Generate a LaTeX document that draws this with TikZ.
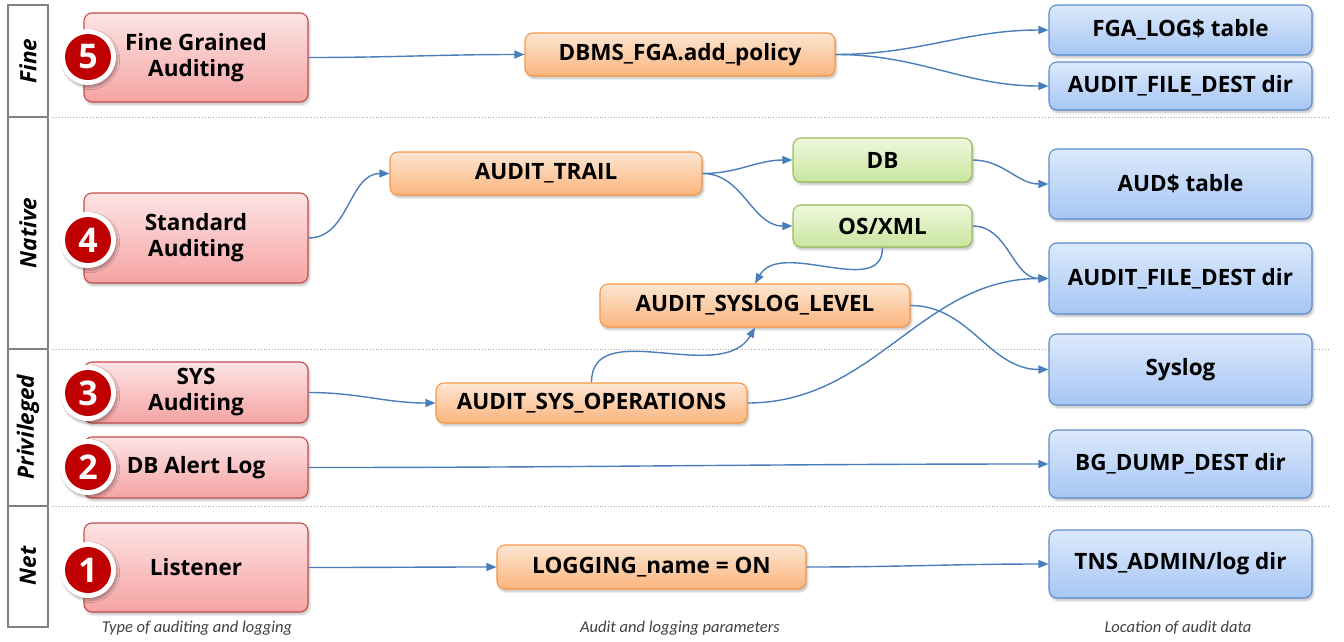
\documentclass[tikz,border=0pt]{standalone}
\usepackage{fontspec}
\setmainfont{Open Sans}
\newfontfamily\capfont{Carlito}
\usetikzlibrary{arrows.meta,shadows.blur,positioning}

\definecolor{redtop}{HTML}{FDE4E4}
\definecolor{redbot}{HTML}{F5A3A3}
\definecolor{redline}{HTML}{C0504D}
\definecolor{ortop}{HTML}{FDE6D2}
\definecolor{orbot}{HTML}{FBB57E}
\definecolor{orline}{HTML}{F79646}
\definecolor{grtop}{HTML}{EEF8DE}
\definecolor{grbot}{HTML}{C9E69E}
\definecolor{grline}{HTML}{9BBB59}
\definecolor{bltop}{HTML}{DCE9FC}
\definecolor{blbot}{HTML}{A6C6F4}
\definecolor{blline}{HTML}{5B8CCB}
\definecolor{wire}{HTML}{4A7EBB}
\definecolor{badge}{HTML}{C00000}
\definecolor{lane}{HTML}{808080}

\tikzset{
  box/.style={draw, line width=1.1pt, rounded corners=8pt, align=center,
    font=\bfseries\fontsize{22.5}{26}\selectfont, inner sep=0pt,
    blur shadow={shadow xshift=1.5pt, shadow yshift=-2.5pt, shadow opacity=25, shadow blur steps=6}},
  redbox/.style={box, draw=redline, top color=redtop, bottom color=redbot},
  orbox/.style={box, draw=orline, top color=ortop, bottom color=orbot},
  grbox/.style={box, draw=grline, top color=grtop, bottom color=grbot},
  blbox/.style={box, draw=blline, top color=bltop, bottom color=blbot},
  ring/.style={circle, fill=white, minimum size=56pt, inner sep=0pt,
    blur shadow={shadow xshift=1.5pt, shadow yshift=-2.5pt, shadow opacity=30, shadow blur steps=6}},
  num/.style={circle, fill=badge, minimum size=46pt, inner sep=0pt, text=white,
    font=\bfseries\fontsize{34}{36}\selectfont},
  wireline/.style={draw=wire, line width=1.4pt, -{Triangle[length=10pt,width=8pt]}},
  lanetext/.style={rotate=90, font=\bfseries\itshape\fontsize{22.5}{26}\selectfont},
  captext/.style={font=\capfont\itshape\fontsize{16.5}{19}\selectfont, text=black!75},
  divider/.style={draw=black!35, line width=0.8pt, dotted}
}

\begin{document}
\begin{tikzpicture}[x=1pt,y=1pt]
\useasboundingbox (0,0) rectangle (1344,-641);

% lane column and lane dividers
\draw[lane, line width=1.2pt] (8,-5) rectangle (48,-627);
\foreach \yy in {117,349,506}{
  \draw[lane, line width=1.2pt] (8,-\yy) -- (48,-\yy);
  \draw[divider] (48,-\yy) -- (1330,-\yy);
}
\node[lanetext] (lfine) at (28,-61) {Fine};
\node[lanetext] (lnative) at (28,-233) {Native};
\node[lanetext] (lpriv) at (28,-427) {Privileged};
\node[lanetext] (lnet) at (28,-566) {Net};

% types of auditing and logging
\node[redbox, minimum width=224pt, minimum height=89pt] (fine) at (196,-57.5) {Fine Grained\\Auditing};
\node[redbox, minimum width=224pt, minimum height=90pt] (std) at (196,-238) {Standard\\Auditing};
\node[redbox, minimum width=224pt, minimum height=61pt] (sys) at (196,-392.5) {SYS\\Auditing};
\node[redbox, minimum width=224pt, minimum height=61pt] (alert) at (196,-467.5) {DB Alert Log};
\node[redbox, minimum width=224pt, minimum height=89pt] (lsn) at (196,-567.5) {Listener};

% numbered badges
\node[ring] (r5) at (88,-57) {};   \node[num] (n5) at (r5) {5};
\node[ring] (r4) at (88,-240) {};  \node[num] (n4) at (r4) {4};
\node[ring] (r3) at (88,-393) {};  \node[num] (n3) at (r3) {3};
\node[ring] (r2) at (88,-467) {};  \node[num] (n2) at (r2) {2};
\node[ring] (r1) at (88,-570) {};  \node[num] (n1) at (r1) {1};

% parameters
\node[orbox, minimum width=310pt, minimum height=43pt] (fga) at (680,-54.5) {DBMS\_FGA.add\_policy};
\node[orbox, minimum width=312pt, minimum height=43pt] (trail) at (546,-173.5) {AUDIT\_TRAIL};
\node[grbox, minimum width=179pt, minimum height=44pt] (db) at (882.5,-160) {DB};
\node[grbox, minimum width=179pt, minimum height=42pt] (osxml) at (882.5,-226) {OS/XML};
\node[orbox, minimum width=310pt, minimum height=43pt] (syslvl) at (755,-305.5) {AUDIT\_SYSLOG\_LEVEL};
\node[orbox, minimum width=311pt, minimum height=40pt] (sysops) at (591.5,-403) {AUDIT\_SYS\_OPERATIONS};
\node[orbox, minimum width=309pt, minimum height=44pt] (logging) at (651.5,-567) {LOGGING\_name = ON};

% locations of audit data
\node[blbox, minimum width=263pt, minimum height=50pt] (fgalog) at (1180.5,-30) {FGA\_LOG\$ table};
\node[blbox, minimum width=263pt, minimum height=48pt] (afdfine) at (1180.5,-86) {AUDIT\_FILE\_DEST dir};
\node[blbox, minimum width=263pt, minimum height=70pt] (aud) at (1180.5,-184) {AUD\$ table};
\node[blbox, minimum width=263pt, minimum height=71pt] (afdnat) at (1180.5,-278.5) {AUDIT\_FILE\_DEST dir};
\node[blbox, minimum width=263pt, minimum height=71pt] (syslog) at (1180.5,-369.5) {Syslog};
\node[blbox, minimum width=263pt, minimum height=68pt] (bgdump) at (1180.5,-464) {BG\_DUMP\_DEST dir};
\node[blbox, minimum width=263pt, minimum height=68pt] (tns) at (1180.5,-564) {TNS\_ADMIN/log dir};

% connectors
\path[wireline] (fine.east) to[out=0,in=180] (fga.west);
\path[wireline] (fga.east) to[out=0,in=180] (fgalog.west);
\path[wireline] (fga.east) to[out=0,in=180] (afdfine.west);
\path[wireline] (std.east) to[out=0,in=180] (trail.west);
\path[wireline] (trail.east) to[out=0,in=180] (db.west);
\path[wireline] (trail.east) to[out=0,in=180] (osxml.west);
\path[wireline] (db.east) to[out=0,in=180] (aud.west);
\path[wireline] (osxml.east) to[out=0,in=180] (afdnat.west);
\path[wireline] (osxml.south) to[out=-90,in=60] (syslvl.north);
\path[wireline] (syslvl.east) to[out=0,in=180] (syslog.west);
\path[wireline] (sys.east) to[out=0,in=180] (sysops.west);
\path[wireline] (sysops.north) to[out=90,in=-120] (syslvl.south);
\path[wireline] (sysops.east) to[out=0,in=180] (afdnat.west);
\path[wireline] (alert.east) to[out=0,in=180] (bgdump.west);
\path[wireline] (lsn.east) to[out=0,in=180] (logging.west);
\path[wireline] (logging.east) to[out=0,in=180] (tns.west);

% column captions
\node[captext] (cap1) at (197,-628) {Type of auditing and logging};
\node[captext] (cap2) at (680,-628) {Audit and logging parameters};
\node[captext] (cap3) at (1178,-628) {Location of audit data};
\end{tikzpicture}
\end{document}
